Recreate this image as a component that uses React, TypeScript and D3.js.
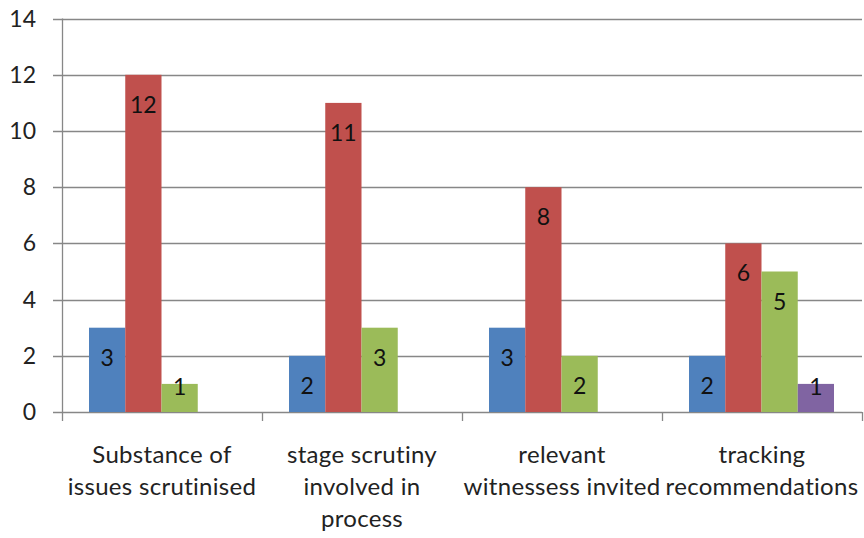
import React from "react";
import * as d3 from "d3";

const categories = [
  ["Substance of", "issues scrutinised"],
  ["stage scrutiny", "involved in", "process"],
  ["relevant", "witnessess invited"],
  ["tracking", "recommendations"],
];
const seriesNames = ["Series 1", "Series 2", "Series 3", "Series 4"];
const seriesColors = ["#4F81BD", "#C0504D", "#9BBB59", "#8064A2"];
const series1 = [3, 2, 3, 2];
const series2 = [12, 11, 8, 6];
const series3 = [1, 3, 2, 5];
const series4 = [0, 0, 0, 1];
const seriesValues = [series1, series2, series3, series4];
const yTicks = [0, 2, 4, 6, 8, 10, 12, 14];

const W = 864;
const H = 538;
const FONT = "Lato, 'Open Sans', sans-serif";
const FS = 23;

export default function App() {
  const catKeys = categories.map((c, i) => String(i));
  const x0 = d3.scaleBand<string>().domain(catKeys).range([62, 862]).padding(0);
  const x1 = d3.scaleBand<string>().domain(seriesNames).range([27, 172]).padding(0);
  const y = d3.scaleLinear().domain([0, 14]).range([412, 18.6]);
  const grid = "#878787";

  return (
    <svg width={W} height={H} style={{ position: "absolute", left: 0, top: 0, background: "#fff" }} fontFamily={FONT}>
      {yTicks.map((t) => (
        <g key={t}>
          <line x1={53} x2={862} y1={Math.round(y(t)) + 0.5} y2={Math.round(y(t)) + 0.5} stroke={grid} strokeWidth={1.3} />
          <text x={36} y={y(t)} dy="0.35em" textAnchor="end" fontSize={FS} fill="#222">{t}</text>
        </g>
      ))}
      <line x1={62.5} x2={62.5} y1={y(14)} y2={y(0)} stroke={grid} strokeWidth={1.3} />
      {catKeys.concat(["end"]).map((k, i) => {
        const xx = 62 + i * x0.bandwidth();
        return <line key={k} x1={xx + 0.5} x2={xx + 0.5} y1={y(0)} y2={y(0) + 9} stroke={grid} strokeWidth={1.3} />;
      })}
      {catKeys.map((k, ci) => (
        <g key={k} transform={`translate(${x0(k)},0)`}>
          {seriesNames.map((s, si) => {
            const v = seriesValues[si][ci];
            if (!v) return null;
            const top = y(v);
            const bottom = y(0);
            const lx = (x1(s) as number) + x1.bandwidth() / 2;
            const ly = Math.min(top + 30, bottom - 25);
            return (
              <g key={s}>
                <rect x={x1(s)} y={top} width={x1.bandwidth()} height={bottom - top} fill={seriesColors[si]} />
                <text x={lx} y={ly} dy="0.35em" textAnchor="middle" fontSize={FS} fill="#111">{v}</text>
              </g>
            );
          })}
          {categories[ci].map((line, li) => (
            <text key={li} x={x0.bandwidth() / 2} y={463 + li * 32} textAnchor="middle" fontSize={24} letterSpacing={0.3} fill="#222">{line}</text>
          ))}
        </g>
      ))}
    </svg>
  );
}
